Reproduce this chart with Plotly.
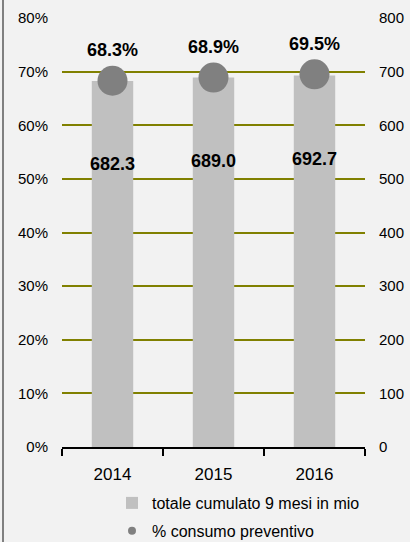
import plotly.graph_objects as go

years = ["2014", "2015", "2016"]
totale_mio = [682.3, 689.0, 692.7]
consumo_pct = [68.3, 68.9, 69.5]
pct_ticks = [0, 10, 20, 30, 40, 50, 60, 70, 80]
abs_ticks = [0, 100, 200, 300, 400, 500, 600, 700, 800]

W, H = 410, 542
L, R, T, B = 62, 45, 18, 95
pw, ph = W - L - R, H - T - B

FONT = "Liberation Sans, Arial, sans-serif"
BG = "#f2f2f2"

fig = go.Figure()

fig.add_trace(go.Bar(
    x=years, y=totale_mio, yaxis="y",
    marker=dict(color="#c0c0c0", line=dict(width=0)),
    name="totale cumulato 9 mesi in mio",
    legendgroup="a",
))
# bar value labels
fig.add_trace(go.Scatter(
    x=years, y=[v * 0.77 for v in totale_mio], yaxis="y",
    mode="text", text=[f"{v:.1f}" for v in totale_mio],
    textfont=dict(family=FONT, size=18, color="#000000", weight="bold"),
    showlegend=False, hoverinfo="skip",
))
fig.add_trace(go.Scatter(
    x=years, y=consumo_pct, yaxis="y2",
    mode="markers+text",
    marker=dict(color="#808080", size=30),
    text=[f"{v:.1f}%" for v in consumo_pct],
    textposition="top center",
    textfont=dict(family=FONT, size=18, color="#000000", weight="bold"),
    showlegend=False,
))
# legend entry for the circle series
fig.add_trace(go.Scatter(
    x=[None], y=[None], yaxis="y2", mode="markers",
    marker=dict(color="#808080", size=8),
    name="% consumo preventivo", legendgroup="b",
))

fig.update_layout(
    width=W, height=H,
    margin=dict(l=L, r=R, t=T, b=B, autoexpand=False),
    paper_bgcolor=BG, plot_bgcolor=BG,
    font=dict(family=FONT, size=15, color="#000000"),
    bargap=0.59,
    xaxis=dict(
        type="category",
        showline=True, linecolor="#000000", linewidth=2,
        ticks="outside", ticklen=7, tickwidth=2, tickcolor="#000000",
        tickson="boundaries",
        ticklabelstandoff=11,
        tickfont=dict(size=17),
        showgrid=False,
    ),
    # bars axis (right side) carries the olive gridlines
    yaxis=dict(
        range=[0, 800], tickvals=abs_ticks,
        side="right",
        showgrid=True, gridcolor="#808000", gridwidth=2,
        zeroline=False, showline=False,
        ticks="", ticklabelstandoff=13,
        tickfont=dict(size=15),
        automargin=False,
    ),
    # percentage axis (left side), drawn on top
    yaxis2=dict(
        range=[0, 80], tickvals=pct_ticks,
        ticktext=[f"{v}%" for v in pct_ticks],
        overlaying="y", side="left",
        showgrid=False, zeroline=False, showline=False,
        ticks="", ticklabelstandoff=13,
        tickfont=dict(size=15),
        automargin=False,
    ),
    legend=dict(
        x=(112 - L) / pw, y=(T + ph - 486) / ph,
        xanchor="left", yanchor="top",
        bgcolor="rgba(0,0,0,0)",
        font=dict(size=16),
        tracegroupgap=4,
        itemwidth=30,
    ),
    shapes=[dict(
        type="line", xref="paper", yref="paper",
        x0=(3 - L) / pw, x1=(3 - L) / pw,
        y0=-(B + 5) / ph, y1=(ph + T + 5) / ph,
        line=dict(color="#808080", width=2),
    )],
)

fig.write_html(
    "out.html",
    config={"displayModeBar": False},
    post_script="document.body.style.margin='0';document.body.style.overflow='hidden';",
)
